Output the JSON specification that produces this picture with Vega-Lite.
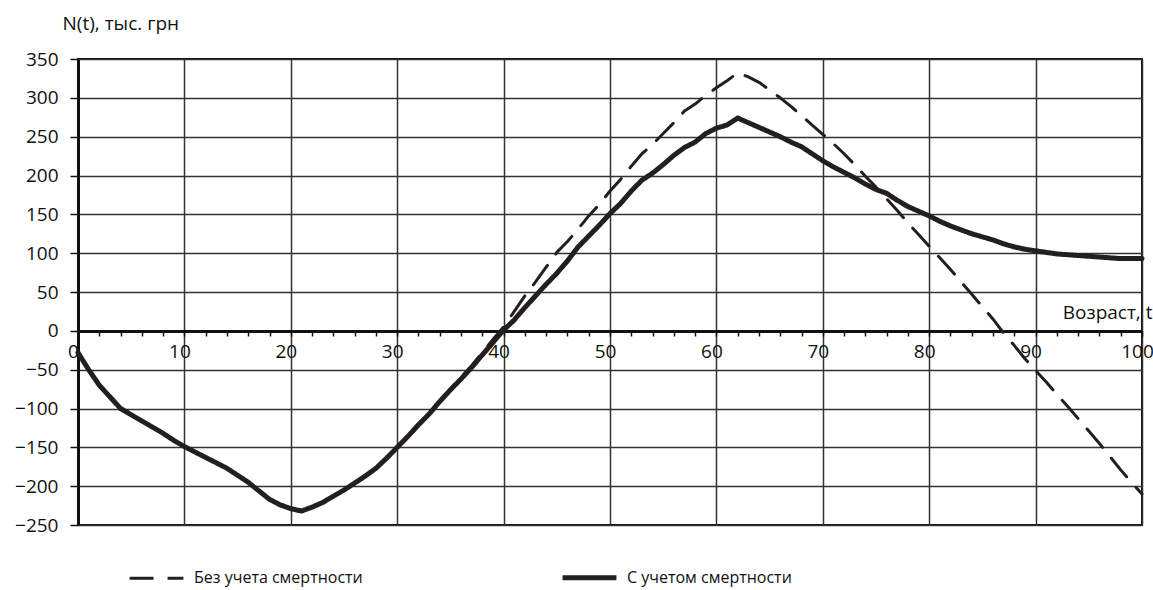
{
  "$schema": "https://vega.github.io/schema/vega-lite/v6.json",
  "width": 1064,
  "height": 466,
  "autosize": "none",
  "padding": {"left": 78, "top": 59, "right": 11, "bottom": 65},
  "background": "white",
  "config": {
    "font": "Open Sans",
    "view": {"stroke": "#111", "strokeWidth": 2},
    "axis": {"labelColor": "#111", "titleColor": "#111", "labelFont": "Open Sans", "titleFont": "Open Sans"}
  },
  "data": {
    "values": [
      {"t":0,"d":-28,"s":-28},{"t":1,"d":-50,"s":-50},{"t":2,"d":-70,"s":-70},{"t":3,"d":-85,"s":-85},{"t":4,"d":-100,"s":-100},
      {"t":5,"d":-108,"s":-108},{"t":6,"d":-116,"s":-116},{"t":7,"d":-124,"s":-124},{"t":8,"d":-132,"s":-132},{"t":9,"d":-141,"s":-141},
      {"t":10,"d":-149,"s":-149},{"t":11,"d":-156,"s":-156},{"t":12,"d":-163,"s":-163},{"t":13,"d":-170,"s":-170},{"t":14,"d":-177,"s":-177},
      {"t":15,"d":-186,"s":-186},{"t":16,"d":-195,"s":-195},{"t":17,"d":-206,"s":-206},{"t":18,"d":-217,"s":-217},{"t":19,"d":-224,"s":-224},
      {"t":20,"d":-229,"s":-229},{"t":21,"d":-232,"s":-232},{"t":22,"d":-227,"s":-227},{"t":23,"d":-221,"s":-221},{"t":24,"d":-213,"s":-213},
      {"t":25,"d":-205,"s":-205},{"t":26,"d":-196,"s":-196},{"t":27,"d":-187,"s":-187},{"t":28,"d":-177,"s":-177},{"t":29,"d":-164,"s":-164},
      {"t":30,"d":-150,"s":-150},{"t":31,"d":-136,"s":-136},{"t":32,"d":-121,"s":-121},{"t":33,"d":-107,"s":-107},{"t":34,"d":-91,"s":-91},
      {"t":35,"d":-75,"s":-76},{"t":36,"d":-60,"s":-62},{"t":37,"d":-45,"s":-47},{"t":38,"d":-28,"s":-31},{"t":39,"d":-11,"s":-15},
      {"t":40,"d":5,"s":1},{"t":41,"d":25,"s":14},{"t":42,"d":45,"s":30},{"t":43,"d":63,"s":45},{"t":44,"d":82,"s":60},
      {"t":45,"d":101,"s":74},{"t":46,"d":115,"s":90},{"t":47,"d":131,"s":108},{"t":48,"d":148,"s":122},{"t":49,"d":163,"s":136},
      {"t":50,"d":180,"s":151},{"t":51,"d":195,"s":164},{"t":52,"d":212,"s":180},{"t":53,"d":228,"s":194},{"t":54,"d":240,"s":203},
      {"t":55,"d":254,"s":214},{"t":56,"d":268,"s":226},{"t":57,"d":283,"s":236},{"t":58,"d":292,"s":243},{"t":59,"d":303,"s":254},
      {"t":60,"d":313,"s":261},{"t":61,"d":322,"s":265},{"t":62,"d":332,"s":274},{"t":63,"d":327,"s":268},{"t":64,"d":320,"s":262},
      {"t":65,"d":310,"s":256},{"t":66,"d":300,"s":250},{"t":67,"d":289,"s":243},{"t":68,"d":277,"s":237},{"t":69,"d":265,"s":228},
      {"t":70,"d":253,"s":219},{"t":71,"d":241,"s":211},{"t":72,"d":228,"s":204},{"t":73,"d":214,"s":197},{"t":74,"d":199,"s":189},
      {"t":75,"d":185,"s":182},{"t":76,"d":170,"s":177},{"t":77,"d":155,"s":168},{"t":78,"d":139,"s":160},{"t":79,"d":124,"s":154},
      {"t":80,"d":109,"s":148},{"t":81,"d":94,"s":141},{"t":82,"d":79,"s":135},{"t":83,"d":63,"s":130},{"t":84,"d":47,"s":125},
      {"t":85,"d":31,"s":121},{"t":86,"d":15,"s":117},{"t":87,"d":-3,"s":112},{"t":88,"d":-19,"s":108},{"t":89,"d":-36,"s":105},
      {"t":90,"d":-51,"s":103},{"t":91,"d":-66,"s":101},{"t":92,"d":-82,"s":99},{"t":93,"d":-97,"s":98},{"t":94,"d":-113,"s":97},
      {"t":95,"d":-129,"s":96},{"t":96,"d":-145,"s":95},{"t":97,"d":-162,"s":94},{"t":98,"d":-179,"s":93},{"t":99,"d":-195,"s":93},
      {"t":100,"d":-210,"s":93}
    ]
  },
  "transform": [{"fold": ["d", "s"], "as": ["series", "v"]}],
  "mark": {"type": "line", "color": "#231f20", "strokeCap": "round", "strokeJoin": "round"},
  "encoding": {
    "x": {
      "field": "t", "type": "quantitative",
      "scale": {"domain": [0, 100], "nice": false, "zero": false},
      "axis": {
        "orient": "bottom",
        "offset": -194,
        "values": [0,2,4,6,8,10,12,14,16,18,20,22,24,26,28,30,32,34,36,38,40,42,44,46,48,50,52,54,56,58,60,62,64,66,68,70,72,74,76,78,80,82,84,86,88,90,92,94,96,98,100],
        "labelExpr": "datum.value % 10 === 0 ? datum.label : ''",
        "labelOverlap": false,
        "labelFlush": false,
        "labelFontSize": 19,
        "labelPadding": 6,
        "labelOffset": -5,
        "labelBound": false,
        "grid": true,
        "gridColor": "#333",
        "gridWidth": 1.5,
        "gridOpacity": {"condition": {"test": "datum.value % 10 === 0", "value": 1}, "value": 0},
        "domainColor": "#111",
        "domainWidth": 3,
        "tickColor": "#111",
        "tickWidth": 1.5,
        "tickSize": 5,
        "title": "Возраст, t",
        "titleFontSize": 19,
        "titleFontWeight": "normal",
        "titleAlign": "right",
        "titleBaseline": "alphabetic",
        "titleAnchor": null,
        "titleX": 1074,
        "titleY": -13
      }
    },
    "y": {
      "field": "v", "type": "quantitative",
      "scale": {"domain": [-250, 350], "nice": false, "zero": false},
      "axis": {
        "values": [-250,-200,-150,-100,-50,0,50,100,150,200,250,300,350],
        "labelFontSize": 19,
        "labelPadding": 12,
        "labelOverlap": false,
        "grid": true,
        "gridColor": "#333",
        "gridWidth": 1.5,
        "domainColor": "#111",
        "domainWidth": 3,
        "tickColor": "#111",
        "tickWidth": 1.5,
        "tickSize": 8,
        "title": "N(t),  тыс. грн",
        "titleFontSize": 19,
        "titleFontWeight": "normal",
        "titleAngle": 0,
        "titleAlign": "left",
        "titleBaseline": "alphabetic",
        "titleAnchor": null,
        "titleX": -16,
        "titleY": -30
      }
    },
    "strokeDash": {
      "field": "series", "type": "nominal",
      "scale": {"domain": ["d", "s"], "range": [[24, 14], [1, 0]]},
      "legend": {
        "title": null,
        "orient": "none",
        "legendX": 49,
        "legendY": 489,
        "direction": "horizontal",
        "columns": 2,
        "columnPadding": 189,
        "symbolType": "stroke",
        "symbolSize": 2900,
        "symbolStrokeWidth": 4,
        "symbolStrokeColor": "#231f20",
        "labelFontSize": 16,
        "labelColor": "#111",
        "labelOffset": 8,
        "labelLimit": 400,
        "labelExpr": "datum.label == 'd' ? 'Без учета смертности' : 'С учетом смертности'",
        "encode": {"symbols": {"update": {"strokeWidth": {"signal": "datum.value == 's' ? 5.5 : 3.5"}}}}
      }
    },
    "strokeWidth": {
      "field": "series", "type": "nominal",
      "scale": {"domain": ["d", "s"], "range": [3, 5]},
      "legend": null
    }
  }
}
